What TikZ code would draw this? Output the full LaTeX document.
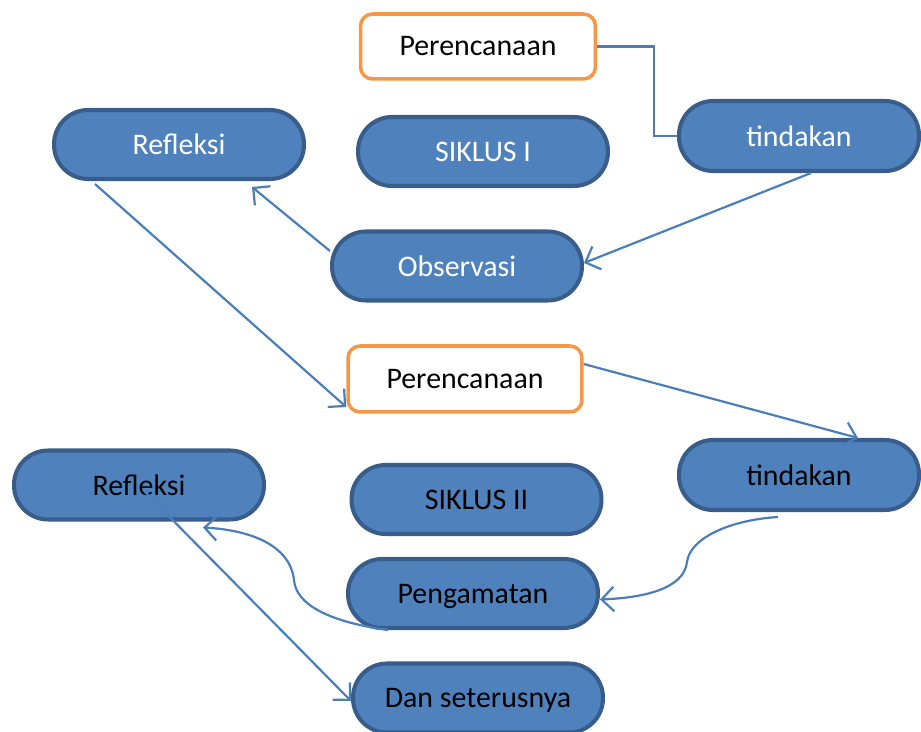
\documentclass[tikz,border=0pt]{standalone}
\usepackage{fontspec}
\setmainfont{Carlito}
\usetikzlibrary{arrows.meta}
\definecolor{boxblue}{HTML}{4F81BD}
\definecolor{boxedge}{HTML}{385D8A}
\definecolor{planorange}{HTML}{F79646}
\definecolor{linkblue}{HTML}{4A7EBB}
\begin{document}
\begin{tikzpicture}[x=0.02cm,y=-0.02cm,
	stage/.style={draw=boxedge,fill=boxblue,line width=2.3pt,rounded corners=0.68cm,
		minimum width=5cm,minimum height=1.38cm,inner sep=0pt,text depth=0pt,font=\fontsize{17}{20}\selectfont},
	plan/.style={draw=planorange,fill=white,line width=2pt,rounded corners=0.24cm,
		minimum width=4.7cm,minimum height=1.3cm,inner sep=0pt,font=\fontsize{17}{20}\selectfont},
	link/.style={linkblue,line width=1.25pt},
	arrow/.style={link,-{Straight Barb[length=7pt,width=14pt]}}]
	\useasboundingbox (0,0) rectangle (921,732);
	% siklus I
	\node[plan] (pA) at (478,46.5) {Perencanaan};
	\node[stage,text=white,minimum width=4.8cm,minimum height=1.4cm] (tindA) at (799,136) {tindakan};
	\node[stage,text=white] (refA) at (179,144.5) {Refleksi};
	\node[stage,text=white] (sikA) at (483,151.5) {SIKLUS I};
	\node[stage,text=white] (obsA) at (457,266) {Observasi};
	% siklus II
	\node[plan,minimum width=4.68cm,minimum height=1.32cm] (pB) at (465,379) {Perencanaan};
	\node[stage,minimum width=4.8cm,minimum height=1.4cm] (tindB) at (799,475) {tindakan};
	\node[stage] (refB) at (139,485) {Refleksi};
	\node[stage] (sikB) at (476.5,499.5) {SIKLUS II};
	\node[stage] (pengA) at (473,593.5) {Pengamatan};
	\node[stage] (danA) at (478,698) {Dan seterusnya};
	% connectors
	\draw[link] (pA.east) -- ++(57,0) |- (tindA.west);
	\draw[arrow] ([xshift=0.24cm]tindA.south) -- ([yshift=0.06cm]obsA.east);
	\draw[arrow] ([yshift=0.3cm]obsA.west) -- ([xshift=1.46cm,yshift=-0.12cm]refA.south);
	\draw[arrow] ([xshift=-1.68cm,yshift=-0.06cm]refA.south) -- ([yshift=-0.56cm]pB.west);
	\draw[arrow] ([yshift=0.3cm]pB.east) -- ([xshift=1.18cm]tindB.north);
	\draw[arrow] ([xshift=-0.42cm,yshift=-0.1cm]tindB.south) .. controls (730,520) and (690,538) .. (687,562)
		.. controls (684,590) and (640,598) .. ([yshift=-0.12cm]pengA.east);
	\draw[arrow] ([xshift=-1.7cm]pengA.south) .. controls (330,622) and (296,605) .. (294,580)
		.. controls (290,545) and (250,530) .. ([xshift=1.28cm,yshift=-0.12cm]refB.south);
	\draw[arrow] ([xshift=0.12cm,yshift=-0.14cm]refB.center) -- ([yshift=-0.06cm]danA.west);
\end{tikzpicture}
\end{document}
